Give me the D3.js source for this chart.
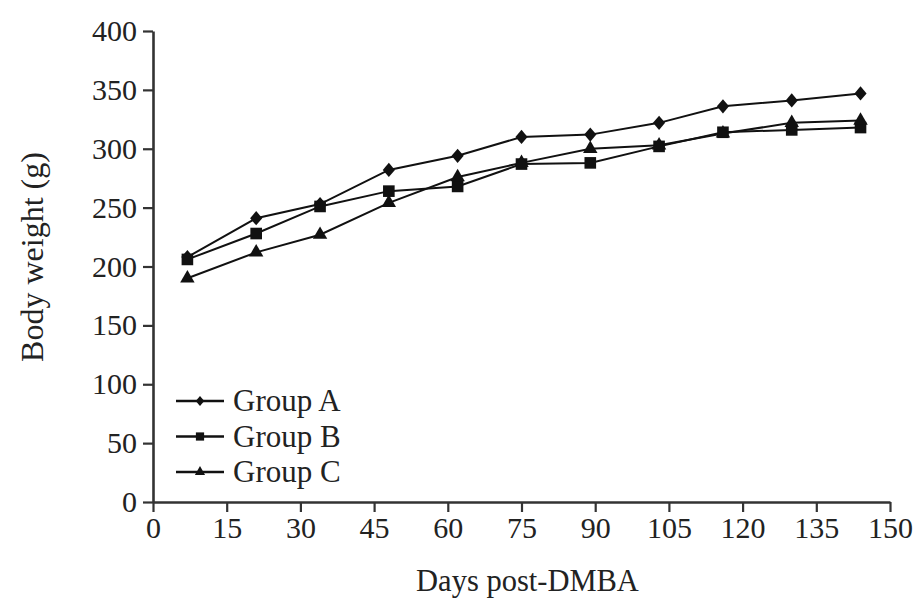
<!DOCTYPE html>
<html>
<head>
<meta charset="utf-8">
<script src="https://cdn.jsdelivr.net/npm/d3@7"></script>
<style>
  body { margin: 0; background: #fff; }
  text { font-family: "Liberation Serif", "DejaVu Serif", serif; fill: #222; }
</style>
</head>
<body>
<div id="chart"></div>
<script>
// days post-DMBA and body weights (g)
var days = [7, 21, 34, 48, 62, 75, 89, 103, 116, 130, 144];
var groupA = [208, 241, 253, 282, 294, 310, 312, 322, 336, 341, 347];
var groupB = [206, 228, 251, 264, 268, 287, 288, 302, 314, 316, 318];
var groupC = [190, 212, 227, 254, 276, 288, 300, 303, 313, 322, 324];
var xTicks = [0, 15, 30, 45, 60, 75, 90, 105, 120, 135, 150];
var yTicks = [0, 50, 100, 150, 200, 250, 300, 350, 400];
var groups = ["Group A", "Group B", "Group C"];

var width = 917, height = 599;
var margin = {left: 153, right: 27, top: 31, bottom: 97};

var svg = d3.select("#chart").append("svg")
    .attr("width", width)
    .attr("height", height);

var x = d3.scaleLinear().domain([0, 150]).range([margin.left, width - margin.right]);
var y = d3.scaleLinear().domain([0, 400]).range([height - margin.bottom, margin.top]);

// diamond a bit wider than d3's default one
var diamond = {
  draw: function(ctx, size) {
    var h = Math.sqrt(size * 0.6), w = h * 0.85;
    ctx.moveTo(0, -h);
    ctx.lineTo(w, 0);
    ctx.lineTo(0, h);
    ctx.lineTo(-w, 0);
    ctx.closePath();
  }
};

// axes
var xAxis = svg.append("g")
    .attr("transform", "translate(0," + y(0) + ")")
    .call(d3.axisBottom(x).tickValues(xTicks).tickSize(10).tickPadding(5).tickSizeOuter(0));
var yAxis = svg.append("g")
    .attr("transform", "translate(" + x(0) + ",0)")
    .call(d3.axisLeft(y).tickValues(yTicks).tickSize(10).tickPadding(6).tickSizeOuter(0));

[xAxis, yAxis].forEach(function(a) {
  a.select(".domain").attr("stroke", "#333").attr("stroke-width", 2.6);
  a.selectAll(".tick line").attr("stroke", "#333").attr("stroke-width", 2.2);
  a.selectAll(".tick text").style("font-size", "30px").attr("fill", "#222");
});

// axis titles
svg.append("text")
    .attr("x", (x(0) + x(150)) / 2 + 6)
    .attr("y", 591)
    .attr("text-anchor", "middle")
    .style("font-size", "30.5px")
    .text("Days post-DMBA");
svg.append("text")
    .attr("transform", "translate(43,257) rotate(-90)")
    .attr("text-anchor", "middle")
    .style("font-size", "32px")
    .text("Body weight (g)");

var series = [
  {name: groups[0], values: groupA, sym: diamond, size: 85},
  {name: groups[1], values: groupB, sym: d3.symbolSquare, size: 135},
  {name: groups[2], values: groupC, sym: d3.symbolTriangle, size: 90}
];

var line = d3.line()
    .x(function(d) { return x(d[0]); })
    .y(function(d) { return y(d[1]); });

series.forEach(function(s) {
  var pts = days.map(function(d, i) { return [d, s.values[i]]; });
  svg.append("path")
      .datum(pts)
      .attr("fill", "none")
      .attr("stroke", "#111")
      .attr("stroke-width", 2)
      .attr("d", line);
  svg.selectAll(null)
      .data(pts)
      .enter().append("path")
      .attr("transform", function(d) { return "translate(" + x(d[0]) + "," + y(d[1]) + ")"; })
      .attr("d", d3.symbol().type(s.sym).size(s.size))
      .attr("fill", "#111");
});

// legend
var legend = svg.append("g").attr("transform", "translate(176,401)");
series.forEach(function(s, i) {
  var g = legend.append("g").attr("transform", "translate(0," + (i * 35.5) + ")");
  g.append("line").attr("x1", 0).attr("x2", 48).attr("y1", 0).attr("y2", 0)
      .attr("stroke", "#111").attr("stroke-width", 2.6);
  g.append("path").attr("transform", "translate(24,0)")
      .attr("d", d3.symbol().type(s.sym).size(s.size * 0.5))
      .attr("fill", "#111");
  g.append("text").attr("x", 57).attr("y", 10)
      .style("font-size", "31px")
      .text(s.name);
});
</script>
</body>
</html>
